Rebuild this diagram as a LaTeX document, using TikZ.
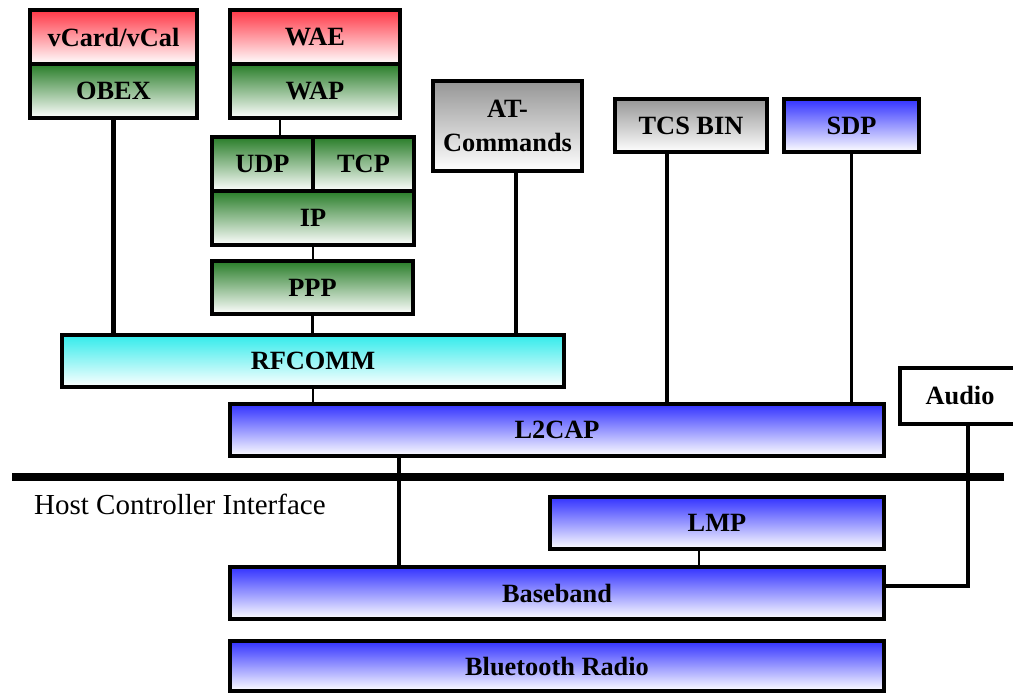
\documentclass[tikz,border=0pt]{standalone}
\usepackage{fontspec}
\setmainfont{Liberation Serif}
\definecolor{redtop}{RGB}{255,55,70}
\definecolor{greentop}{RGB}{40,125,40}
\definecolor{graytop}{RGB}{150,150,150}
\definecolor{bluetop}{RGB}{50,50,255}
\definecolor{cyantop}{RGB}{50,235,235}
\tikzset{
    layer/.style={draw, line width=2.2pt, inner sep=0pt, align=center,
        font=\fontsize{15}{19}\selectfont\bfseries},
    redlayer/.style={layer, top color=redtop, middle color=redtop!30, bottom color=white},
    greenlayer/.style={layer, top color=greentop, middle color=greentop!25, bottom color=white},
    graylayer/.style={layer, top color=graytop, middle color=graytop!30, bottom color=white},
    bluelayer/.style={layer, top color=bluetop, middle color=bluetop!30, bottom color=white},
    cyanlayer/.style={layer, top color=cyantop, middle color=cyantop!30, bottom color=white},
    thickwire/.style={line width=2.6pt},
    thinwire/.style={line width=1.6pt}
}
\begin{document}
\begin{tikzpicture}[x=0.02cm, y=-0.02cm]
    \useasboundingbox 
        (0,0) rectangle (1013,694);
    % upper protocol stack
    \node[redlayer, minimum width=3.34cm, minimum height=1.08cm] (vcard) at (113.5,37) {vCard/vCal};
    \node[greenlayer, minimum width=3.34cm, minimum height=1.08cm] (obex) at (113.5,91) {OBEX};
    \node[redlayer, minimum width=3.40cm, minimum height=1.08cm] (wae) at (315,37) {WAE};
    \node[greenlayer, minimum width=3.40cm, minimum height=1.08cm] (wap) at (315,91) {WAP};
    \node[greenlayer, minimum width=2.02cm, minimum height=1.08cm] (udp) at (262.5,164) {UDP};
    \node[greenlayer, minimum width=2.02cm, minimum height=1.08cm] (tcp) at (363.5,164) {TCP};
    \node[greenlayer, minimum width=4.04cm, minimum height=1.08cm] (ip) at (313,218) {IP};
    \node[greenlayer, minimum width=4.02cm, minimum height=1.06cm] (ppp) at (312.5,287.5) {PPP};
    \node[graylayer, minimum width=2.98cm, minimum height=1.80cm] (at) at (507.5,126) {AT-\\Commands};
    \node[graylayer, minimum width=3.04cm, minimum height=1.06cm] (tcs) at (691,125.5) {TCS BIN};
    \node[bluelayer, minimum width=2.70cm, minimum height=1.06cm] (sdp) at (851.5,125.5) {SDP};
    \node[cyanlayer, minimum width=10.04cm, minimum height=1.04cm] (rfcomm) at (313,361) {RFCOMM};
    \node[layer, fill=white, minimum width=2.40cm, minimum height=1.12cm] (audio) at (960,396) {Audio};
    \node[bluelayer, minimum width=13.08cm, minimum height=1.04cm] (l2cap) at (557,430) {L2CAP};
    % host controller interface
    \coordinate (hcileft) at (12,477);
    \coordinate (hciright) at (1004,477);
    \draw[line width=5pt] 
        (hcileft)--(hciright);
    \node[anchor=west, font=\fontsize{16.5}{18}\selectfont] (hci) at (28,504) {Host Controller Interface};
    % lower stack
    \node[bluelayer, minimum width=6.68cm, minimum height=1.04cm] (lmp) at (717,523) {LMP};
    \node[bluelayer, minimum width=13.08cm, minimum height=1.04cm] (baseband) at (557,593) {Baseband};
    \node[bluelayer, minimum width=13.08cm, minimum height=1.00cm] (radio) at (557,666) {Bluetooth Radio};
    % connections
    \draw[thickwire] 
        (obex.south)--(obex.south |- rfcomm.north);
    \draw[thinwire] 
        ([xshift=-0.7cm]wap.south)--([xshift=-0.7cm]wap.south |- udp.north);
    \draw[thinwire] 
        (ip.south)--(ip.south |- ppp.north);
    \draw[thinwire] 
        (ppp.south)--(ppp.south |- rfcomm.north);
    \draw[thickwire] 
        ([xshift=0.17cm]at.south)--([xshift=0.17cm]at.south |- rfcomm.north);
    \draw[thinwire] 
        (rfcomm.south)--(rfcomm.south |- l2cap.north);
    \draw[thickwire] 
        ([xshift=-0.48cm]tcs.south)--([xshift=-0.48cm]tcs.south |- l2cap.north);
    \draw[thinwire] 
        (sdp.south)--(sdp.south |- l2cap.north);
    \draw[thickwire] 
        ([xshift=-3.16cm]l2cap.south)--([xshift=-3.16cm]l2cap.south |- baseband.north);
    \draw[thinwire] 
        ([xshift=-0.36cm]lmp.south)--([xshift=-0.36cm]lmp.south |- baseband.north);
    \draw[thickwire] 
        ([xshift=0.16cm]audio.south) |- ([yshift=0.14cm]baseband.east);
\end{tikzpicture}
\end{document}
